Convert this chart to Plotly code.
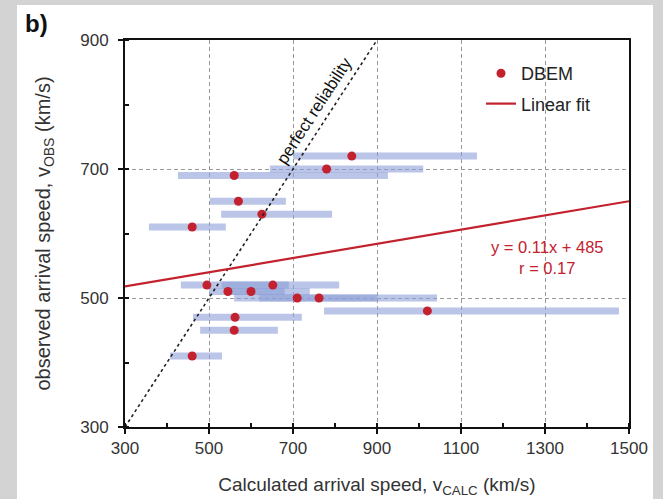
import plotly.graph_objects as go

# ---- data ----
calc_speed = [840, 780, 560, 570, 626, 460, 495, 652, 545, 600, 710, 762, 1020, 562, 560, 460]
obs_speed = [720, 700, 690, 650, 630, 610, 520, 520, 510, 510, 500, 500, 480, 470, 450, 410]
calc_low = [700, 645, 426, 502, 529, 357, 433, 530, 500, 540, 620, 560, 774, 462, 479, 407]
calc_high = [1138, 1010, 926, 683, 793, 540, 690, 810, 680, 740, 1043, 900, 1476, 721, 664, 531]

fit_slope = 0.11
fit_intercept = 485
fit_r = 0.17
fit_x = [300, 1500]
fit_y = [fit_slope * v + fit_intercept for v in fit_x]

perfect_x = [300, 900]
perfect_y = [300, 900]

x_ticks = [300, 500, 700, 900, 1100, 1300, 1500]
y_ticks = [300, 500, 700, 900]

FONT = "Liberation Sans, Arial, sans-serif"
RED = "#c4212e"

err_plus = [h - c for h, c in zip(calc_high, calc_speed)]
err_minus = [c - l for c, l in zip(calc_speed, calc_low)]

fig = go.Figure()

fig.add_trace(go.Scatter(
    x=calc_speed, y=obs_speed, mode="markers", name="DBEM",
    legendgroup="a",
    marker=dict(color=RED, size=9, line=dict(width=0)),
    error_x=dict(type="data", symmetric=False, array=err_plus, arrayminus=err_minus,
                 width=0, thickness=7, color="rgba(140,158,215,0.6)"),
))

fig.add_trace(go.Scatter(
    x=perfect_x, y=perfect_y, mode="lines", showlegend=False,
    line=dict(color="#222222", width=1.6, dash="dot"),
))

fig.add_trace(go.Scatter(
    x=fit_x, y=fit_y, mode="lines", name="Linear fit",
    legendgroup="b",
    line=dict(color=RED, width=2.2),
))

W, H = 663, 499
L, R, T, B = 125, 34, 40, 72
pw, ph = W - L - R, H - T - B


def px_x(p):
    return (p - L) / pw


def px_y(p):
    return (H - B - p) / ph


# white panel over grey surround
fig.add_shape(type="rect", xref="paper", yref="paper",
              x0=px_x(17), x1=px_x(653), y0=px_y(499), y1=px_y(5),
              fillcolor="white", line=dict(width=0), layer="below")

fig.add_annotation(text="<b>b)</b>", xref="paper", yref="paper",
                   x=px_x(36), y=px_y(23), xanchor="center", yanchor="middle",
                   showarrow=False,
                   font=dict(family=FONT, size=24, color="#111"))

fig.add_annotation(text="perfect reliability", x=752, y=790, xref="x", yref="y",
                   showarrow=False, textangle=-57,
                   font=dict(family=FONT, size=17, color="#111"))

fig.add_annotation(text=f"y = {fit_slope}x + {fit_intercept}<br>r = {fit_r}",
                   x=1307, y=563, xref="x", yref="y", showarrow=False,
                   align="center",
                   font=dict(family=FONT, size=16.5, color=RED))

axis_common = dict(
    showline=True, linecolor="#111", linewidth=2, mirror=True, automargin=False,
    showgrid=True, gridcolor="#9a9a9a", gridwidth=1, griddash="4px,3px",
    zeroline=False, ticks="outside", ticklen=5, tickwidth=2, tickcolor="#111",
    tickfont=dict(family=FONT, size=17, color="#333"),
    minor=dict(ticks="inside", ticklen=4, tickwidth=2, tickcolor="#111", dtick=100, showgrid=False),
)

fig.update_xaxes(range=[300, 1500], tickvals=x_ticks,
                 title=dict(text="Calculated arrival speed, v<sub>CALC</sub> (km/s)",
                            font=dict(family=FONT, size=19, color="#333"), standoff=20),
                 **axis_common)
fig.update_yaxes(range=[300, 900], tickvals=y_ticks, ticklabelstandoff=6,
                 title=dict(text="observed arrival speed, v<sub>OBS</sub> (km/s)",
                            font=dict(family=FONT, size=20, color="#333"), standoff=24),
                 **axis_common)

fig.update_layout(
    width=W, height=H,
    margin=dict(l=L, r=R, t=T, b=B, pad=0),
    paper_bgcolor="#d3d3d3", plot_bgcolor="white",
    showlegend=True,
    legend=dict(x=px_x(481), y=px_y(55), xanchor="left", yanchor="top",
                bgcolor="rgba(255,255,255,0)", tracegroupgap=4,
                font=dict(family=FONT, size=18, color="#222")),
)

fig.write_html("out.html",
               config={"displayModeBar": False},
               post_script="document.body.style.margin='0';document.body.style.background='#d3d3d3';")
